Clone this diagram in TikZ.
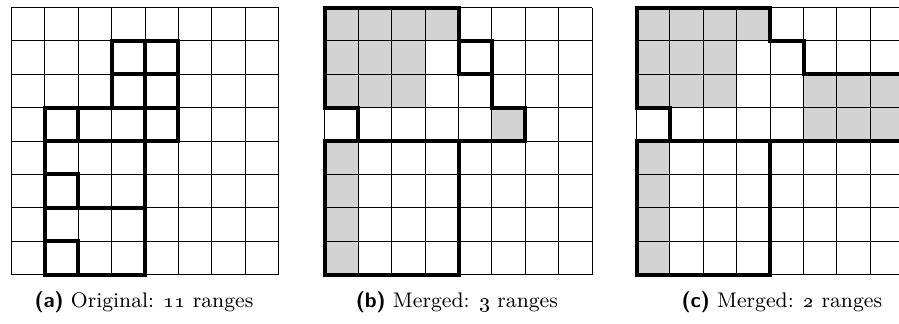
\documentclass[tikz,border=0pt]{standalone}
\usepackage{amsmath,amssymb}
\usepackage{xcolor}
\usepackage{tikz}
\usetikzlibrary{positioning}

\definecolor{cellgray}{RGB}{211,211,211}

\begin{document}
\begin{tikzpicture}[
    x=0.5cm, y=-0.5cm,
    cellgrid/.style={draw=black, line width=0.45pt, step=0.5cm},
    rangebox/.style={draw=black, line width=1.7pt, line cap=rect, line join=miter},
    shaded/.style={fill=cellgray},
    caption/.style={anchor=base, inner sep=0pt, font=\fontsize{9}{11}\selectfont}
  ]
  % Page size
  \useasboundingbox (0,0) rectangle (26.92,9.70);
  \clip (0,0) rectangle (26.92,9.70);

  % Grid (a): original ranges
  \begin{scope}[shift={(0.344,0.225)}]
    \draw[cellgrid] (0,0) grid (8,8);
    \draw[rangebox] (3,1) rectangle (4,2);
    \draw[rangebox] (4,1) rectangle (5,2);
    \draw[rangebox] (3,2) rectangle (4,3);
    \draw[rangebox] (4,2) rectangle (5,3);
    \draw[rangebox] (4,3) rectangle (5,4);
    \draw[rangebox] (1,3) rectangle (2,4);
    \draw[rangebox] (2,3) rectangle (4,4);
    \draw[rangebox] (1,4) rectangle (4,6);
    \draw[rangebox] (1,5) rectangle (2,6);
    \draw[rangebox] (1,6) rectangle (4,8);
    \draw[rangebox] (1,7) rectangle (2,8);
  \end{scope}

  % Grid (b): merged into 3 ranges
  \begin{scope}[shift={(9.73,0.225)}]
    \path[shaded] (0,0) rectangle (4,1);
    \path[shaded] (0,1) rectangle (3,3);
    \path[shaded] (5,3) rectangle (6,4);
    \path[shaded] (0,4) rectangle (1,8);
    \draw[cellgrid] (0,0) grid (8,8);
    \draw[rangebox] (0,0) -- (4,0) -- (4,2) -- (5,2) -- (5,3) -- (6,3) -- (6,4)
      -- (1,4) -- (1,3) -- (0,3) -- cycle;
    \draw[rangebox] (4,1) rectangle (5,2);
    \draw[rangebox] (0,4) rectangle (4,8);
  \end{scope}

  % Grid (c): merged into 2 ranges
  \begin{scope}[shift={(19.06,0.225)}]
    \path[shaded] (0,0) rectangle (4,1);
    \path[shaded] (0,1) rectangle (3,3);
    \path[shaded] (5,2) rectangle (8,4);
    \path[shaded] (0,4) rectangle (1,8);
    \draw[cellgrid] (0,0) grid (8,8);
    \draw[rangebox] (0,0) -- (4,0) -- (4,1) -- (5,1) -- (5,2) -- (8,2) -- (8,4)
      -- (1,4) -- (1,3) -- (0,3) -- cycle;
    \draw[rangebox] (0,4) rectangle (4,8);
  \end{scope}

  % Captions
  \node[caption] (capa) at (4.31,9.22) {\textsf{\bfseries (a)} Original: \oldstylenums{11} ranges};
  \node[caption] (capb) at (13.68,9.22) {\textsf{\bfseries (b)} Merged: \oldstylenums{3} ranges};
  \node[caption] (capc) at (23.41,9.22) {\textsf{\bfseries (c)} Merged: \oldstylenums{2} ranges};
\end{tikzpicture}
\end{document}
